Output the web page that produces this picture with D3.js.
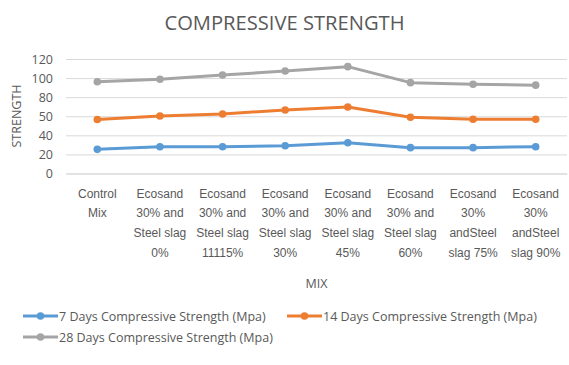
<!DOCTYPE html>
<html>
<head>
<meta charset="utf-8">
<script src="https://cdn.jsdelivr.net/npm/d3@7"></script>
<style>
  html, body { margin: 0; padding: 0; background: #fff; }
  svg { display: block; font-family: "Open Sans", "DejaVu Sans", sans-serif; }
</style>
</head>
<body>
<svg id="chart" width="569" height="365"></svg>
<script>
// Mix designs (line breaks follow the wrapped axis labels)
const categories = [
  "Control\nMix",
  "Ecosand\n30% and\nSteel slag\n0%",
  "Ecosand\n30% and\nSteel slag\n11115%",
  "Ecosand\n30% and\nSteel slag\n30%",
  "Ecosand\n30% and\nSteel slag\n45%",
  "Ecosand\n30% and\nSteel slag\n60%",
  "Ecosand\n30%\nandSteel\nslag 75%",
  "Ecosand\n30%\nandSteel\nslag 90%"
];

// Compressive strength (MPa)
const days7  = [25.3, 28.1, 28.1, 29.1, 32.2, 27.1, 27.1, 28.1];
const days14 = [56.6, 60.3, 62.4, 66.6, 69.7, 58.9, 56.8, 56.8];
const days28 = [96.2, 98.7, 103.2, 107.4, 112.0, 95.2, 93.5, 92.6];

const seriesNames = [
  "7 Days Compressive Strength (Mpa)",
  "14 Days Compressive Strength (Mpa)",
  "28 Days Compressive Strength (Mpa)"
];

// Value axis
const tickValues = [0, 20, 40, 60, 80, 100, 120];
const tickLabels = ["0", "20", "40", "50", "80", "100", "120"];

const colors = ["#5b9bd5", "#ed7d31", "#a5a5a5"];
const series = [days7, days14, days28].map((values, i) => ({
  name: seriesNames[i], values, color: colors[i]
}));

const svg = d3.select("#chart");
const plot = { left: 66, right: 567, top: 59, bottom: 173.5 };

const x = d3.scaleBand().domain(categories).range([plot.left, plot.right]);
const y = d3.scaleLinear().domain([0, 120]).range([plot.bottom, plot.top]);
const cx = c => x(c) + x.bandwidth() / 2;

// Title
svg.append("text")
  .attr("x", 284.5).attr("y", 30)
  .attr("text-anchor", "middle")
  .attr("font-size", 20)
  .attr("fill", "#595959")
  .attr("textLength", 240)
  .attr("lengthAdjust", "spacingAndGlyphs")
  .text("COMPRESSIVE STRENGTH");

// Gridlines + y labels
const yAxis = d3.axisLeft(y)
  .tickValues(tickValues)
  .tickSize(-(plot.right - plot.left))
  .tickPadding(13)
  .tickFormat((d, i) => tickLabels[i]);

const gy = svg.append("g")
  .attr("transform", `translate(${plot.left},0)`)
  .call(yAxis);
gy.select(".domain").remove();
gy.selectAll(".tick line").attr("stroke", "#d9d9d9").attr("stroke-width", 1);
gy.selectAll(".tick text")
  .attr("fill", "#595959")
  .attr("font-size", 12.5)
  .attr("font-family", "Open Sans, sans-serif");

// Category labels
const xAxis = d3.axisBottom(x).tickSize(0).tickFormat("");
const gx = svg.append("g")
  .attr("transform", `translate(0,${plot.bottom})`)
  .call(xAxis);
gx.select(".domain").attr("stroke", "#d9d9d9");

gx.selectAll(".tick").each(function(d) {
  const t = d3.select(this).append("text")
    .attr("fill", "#595959")
    .attr("font-size", 12)
    .attr("text-anchor", "middle")
    .attr("y", 24);
  d.split("\n").forEach((line, i) => {
    t.append("tspan").attr("x", 0).attr("dy", i === 0 ? 0 : 19.7).text(line);
  });
});

// Axis titles
svg.append("text")
  .attr("transform", "translate(21,116) rotate(-90)")
  .attr("text-anchor", "middle")
  .attr("font-size", 12.5)
  .attr("fill", "#595959")
  .text("STRENGTH");

svg.append("text")
  .attr("x", (plot.left + plot.right) / 2).attr("y", 288)
  .attr("text-anchor", "middle")
  .attr("font-size", 12.5)
  .attr("fill", "#595959")
  .text("MIX");

// Lines and markers
const line = d3.line()
  .x((d, i) => cx(categories[i]))
  .y(d => y(d));

const gs = svg.append("g").selectAll("g").data(series).join("g");
gs.append("path")
  .attr("d", d => line(d.values))
  .attr("fill", "none")
  .attr("stroke", d => d.color)
  .attr("stroke-width", 3)
  .attr("stroke-linejoin", "round")
  .attr("stroke-linecap", "round");
gs.each(function(s) {
  d3.select(this).selectAll("circle").data(s.values).join("circle")
    .attr("cx", (d, i) => cx(categories[i]))
    .attr("cy", d => y(d))
    .attr("r", 3.8)
    .attr("fill", s.color);
});

// Legend
const legendPos = [
  { x: 23, y: 316 },
  { x: 287, y: 316 },
  { x: 23, y: 337 }
];
const lg = svg.append("g").selectAll("g").data(series).join("g")
  .attr("transform", (d, i) => `translate(${legendPos[i].x},${legendPos[i].y})`);
lg.append("line")
  .attr("x1", 0).attr("x2", 35).attr("y1", 0).attr("y2", 0)
  .attr("stroke", d => d.color).attr("stroke-width", 3);
lg.append("circle")
  .attr("cx", 17.5).attr("cy", 0).attr("r", 3.8)
  .attr("fill", d => d.color);
lg.append("text")
  .attr("x", 36).attr("y", 4.5)
  .attr("font-size", 12.5)
  .attr("fill", "#595959")
  .text(d => d.name);
</script>
</body>
</html>
